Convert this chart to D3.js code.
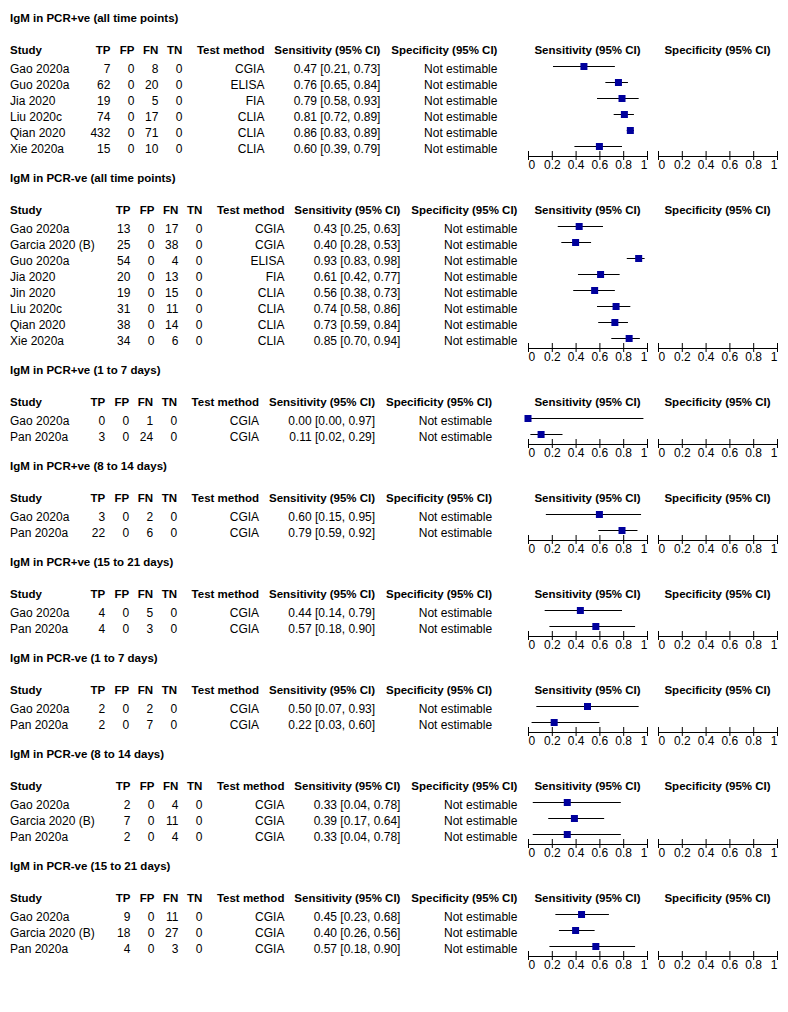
<!DOCTYPE html>
<html lang="en">
<head>
<meta charset="UTF-8">
<title>IgM sensitivity forest plots</title>
<script src="https://cdnjs.cloudflare.com/ajax/libs/d3/7.8.5/d3.min.js"></script>
<style>
  body { margin: 0; background: #fff; }
  svg text { font-family: "Liberation Sans", Arial, sans-serif; fill: #000; }
  .bold { font-weight: bold; font-size: 11.5px; }
  .cell { font-size: 12px; }
</style>
</head>
<body>
<svg id="chart" width="788" height="1012"></svg>
<script>
// row = [study, TP, FP, FN, TN, test method, sensitivity, lower CI, upper CI]
const posAll = [
  ["Gao 2020a", 7, 0, 8, 0, "CGIA", 0.47, 0.21, 0.73],
  ["Guo 2020a", 62, 0, 20, 0, "ELISA", 0.76, 0.65, 0.84],
  ["Jia 2020", 19, 0, 5, 0, "FIA", 0.79, 0.58, 0.93],
  ["Liu 2020c", 74, 0, 17, 0, "CLIA", 0.81, 0.72, 0.89],
  ["Qian 2020", 432, 0, 71, 0, "CLIA", 0.86, 0.83, 0.89],
  ["Xie 2020a", 15, 0, 10, 0, "CLIA", 0.60, 0.39, 0.79]
];
const negAll = [
  ["Gao 2020a", 13, 0, 17, 0, "CGIA", 0.43, 0.25, 0.63],
  ["Garcia 2020 (B)", 25, 0, 38, 0, "CGIA", 0.40, 0.28, 0.53],
  ["Guo 2020a", 54, 0, 4, 0, "ELISA", 0.93, 0.83, 0.98],
  ["Jia 2020", 20, 0, 13, 0, "FIA", 0.61, 0.42, 0.77],
  ["Jin 2020", 19, 0, 15, 0, "CLIA", 0.56, 0.38, 0.73],
  ["Liu 2020c", 31, 0, 11, 0, "CLIA", 0.74, 0.58, 0.86],
  ["Qian 2020", 38, 0, 14, 0, "CLIA", 0.73, 0.59, 0.84],
  ["Xie 2020a", 34, 0, 6, 0, "CLIA", 0.85, 0.70, 0.94]
];
const pos1to7 = [
  ["Gao 2020a", 0, 0, 1, 0, "CGIA", 0.00, 0.00, 0.97],
  ["Pan 2020a", 3, 0, 24, 0, "CGIA", 0.11, 0.02, 0.29]
];
const pos8to14 = [
  ["Gao 2020a", 3, 0, 2, 0, "CGIA", 0.60, 0.15, 0.95],
  ["Pan 2020a", 22, 0, 6, 0, "CGIA", 0.79, 0.59, 0.92]
];
const pos15to21 = [
  ["Gao 2020a", 4, 0, 5, 0, "CGIA", 0.44, 0.14, 0.79],
  ["Pan 2020a", 4, 0, 3, 0, "CGIA", 0.57, 0.18, 0.90]
];
const neg1to7 = [
  ["Gao 2020a", 2, 0, 2, 0, "CGIA", 0.50, 0.07, 0.93],
  ["Pan 2020a", 2, 0, 7, 0, "CGIA", 0.22, 0.03, 0.60]
];
const neg8to14 = [
  ["Gao 2020a", 2, 0, 4, 0, "CGIA", 0.33, 0.04, 0.78],
  ["Garcia 2020 (B)", 7, 0, 11, 0, "CGIA", 0.39, 0.17, 0.64],
  ["Pan 2020a", 2, 0, 4, 0, "CGIA", 0.33, 0.04, 0.78]
];
const neg15to21 = [
  ["Gao 2020a", 9, 0, 11, 0, "CGIA", 0.45, 0.23, 0.68],
  ["Garcia 2020 (B)", 18, 0, 27, 0, "CGIA", 0.40, 0.26, 0.56],
  ["Pan 2020a", 4, 0, 3, 0, "CGIA", 0.57, 0.18, 0.90]
];

const sectionTitles = [
  "IgM in PCR+ve (all time points)",
  "IgM in PCR-ve (all time points)",
  "IgM in PCR+ve (1 to 7 days)",
  "IgM in PCR+ve (8 to 14 days)",
  "IgM in PCR+ve (15 to 21 days)",
  "IgM in PCR-ve (1 to 7 days)",
  "IgM in PCR-ve (8 to 14 days)",
  "IgM in PCR-ve (15 to 21 days)"
];
const sectionRows = [posAll, negAll, pos1to7, pos8to14, pos15to21, neg1to7, neg8to14, neg15to21];

const headers = ["Study", "TP", "FP", "FN", "TN", "Test method", "Sensitivity (95% CI)", "Specificity (95% CI)"];
const plotHeaders = ["Sensitivity (95% CI)", "Specificity (95% CI)"];
const axisTicks = [0, 0.2, 0.4, 0.6, 0.8, 1];
const specText = "Not estimable";

const svg = d3.select("#chart");
const sensX = d3.scaleLinear().domain([0, 1]).range([528, 647]);
const specX = d3.scaleLinear().domain([0, 1]).range([658, 777]);
const fmt = d3.format(".2f");

// helper to measure text so the table columns size like the original
const probe = svg.append("text");
function textW(s, cls) {
  probe.attr("class", cls).text(s);
  return probe.node().getComputedTextLength();
}

function drawAxis(g, scale, y) {
  const ax = d3.axisBottom(scale)
    .tickValues(axisTicks)
    .tickFormat(d3.format("~g"))
    .tickSizeOuter(0)
    .tickSize(4);
  const ag = g.append("g").attr("transform", `translate(0,${y})`).call(ax);
  ag.select(".domain").attr("stroke", "#000");
  ag.selectAll(".tick line").attr("stroke", "#000").attr("y1", -5).attr("y2", 4);
  ag.selectAll(".tick text")
    .attr("class", "cell")
    .attr("y", 12.5)
    .attr("dy", null)
    .attr("text-anchor", (d, i) => i === 0 ? "start" : (i === axisTicks.length - 1 ? "end" : "middle"));
}

let yPos = 22;
sectionRows.forEach((rows, si) => {
  const g = svg.append("g");

  g.append("text").attr("class", "bold").attr("x", 10).attr("y", yPos).text(sectionTitles[si]);

  // column right edges
  const studyW = d3.max(rows, r => textW(r[0], "cell"));
  const tpW = Math.max(textW("TP", "bold"), d3.max(rows, r => textW(String(r[1]), "cell")));
  const tpR = 10 + studyW + 21 + tpW;
  const rights = [tpR, tpR + 24, tpR + 48, tpR + 72, tpR + 154, tpR + 270, tpR + 387];

  const hy = yPos + 32;
  g.append("text").attr("class", "bold").attr("x", 10).attr("y", hy).text(headers[0]);
  headers.slice(1).forEach((h, i) => {
    g.append("text").attr("class", "bold").attr("x", rights[i]).attr("y", hy)
      .attr("text-anchor", "end").text(h);
  });
  g.append("text").attr("class", "bold").attr("text-anchor", "middle")
    .attr("x", d3.mean(sensX.range())).attr("y", hy).text(plotHeaders[0]);
  g.append("text").attr("class", "bold").attr("text-anchor", "middle")
    .attr("x", d3.mean(specX.range())).attr("y", hy).text(plotHeaders[1]);

  rows.forEach((r, i) => {
    const by = yPos + 51 + 16 * i;
    g.append("text").attr("class", "cell").attr("x", 10).attr("y", by).text(r[0]);
    const cells = [r[1], r[2], r[3], r[4], r[5],
      `${fmt(r[6])} [${fmt(r[7])}, ${fmt(r[8])}]`, specText];
    cells.forEach((c, j) => {
      g.append("text").attr("class", "cell").attr("x", rights[j]).attr("y", by)
        .attr("text-anchor", "end").text(c);
    });

    const cy = by - 6.5;
    g.append("line")
      .attr("x1", sensX(r[7])).attr("x2", sensX(r[8]))
      .attr("y1", cy).attr("y2", cy)
      .attr("stroke", "#000").attr("stroke-width", 1);
    g.append("rect")
      .attr("x", sensX(r[6]) - 3.5).attr("y", cy - 3.5)
      .attr("width", 7).attr("height", 7)
      .attr("fill", "#00009c");
  });

  const axisY = yPos + 51 + 16 * (rows.length - 1) + 3;
  drawAxis(g, sensX, axisY);
  drawAxis(g, specX, axisY);

  yPos += 64 + 16 * rows.length;
});
probe.remove();
</script>
</body>
</html>
